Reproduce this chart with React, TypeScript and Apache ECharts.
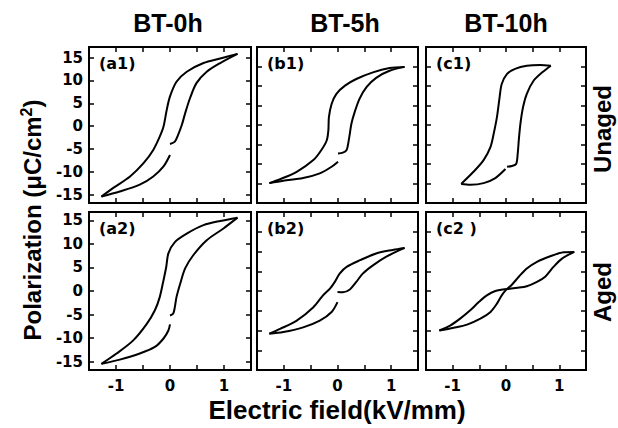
import React, { useEffect, useRef } from 'react';
import * as echarts from 'echarts';

// ---------- data ----------
const columnTitles = ['BT-0h', 'BT-5h', 'BT-10h'];
const rowTitles = ['Unaged', 'Aged'];
const panelLabels = ['(a1)', '(b1)', '(c1)', '(a2)', '(b2)', '(c2 )'];
const yTickValues = [-15, -10, -5, 0, 5, 10, 15];
const xTickValues = [-1.5, -1, -0.5, 0, 0.5, 1, 1.5];
const xLabelValues = [-1, 0, 1];
const xAxisTitle = 'Electric field(kV/mm)';

// each loop: rising branch, falling branch, returning branch  [E (kV/mm), P (uC/cm2)]
const a1Rise = [[0, -3.9], [0.09, -3.4], [0.15, -1.9], [0.22, 0.3], [0.28, 2.8], [0.37, 6.1], [0.49, 9.4], [0.68, 11.9], [0.93, 13.8], [1.25, 15.8]];
const a1Fall = [[1.25, 15.8], [0.93, 14.8], [0.62, 13.8], [0.31, 11.9], [0.12, 9.7], [0, 6.5], [-0.06, 3.6], [-0.12, -0.1], [-0.19, -2.3], [-0.31, -5.2], [-0.49, -8.1], [-0.74, -11], [-1.05, -13.5], [-1.27, -15.4]];
const a1Return = [[-1.27, -15.4], [-0.93, -14.3], [-0.56, -12.8], [-0.31, -11], [-0.12, -8.8], [0, -6.3]];

const b1Rise = [[0.01, -7.3], [0.1, -7.1], [0.17, -6.4], [0.2, -4.7], [0.23, -2.2], [0.26, 0.4], [0.32, 3.3], [0.41, 6.7], [0.54, 9.7], [0.72, 12.1], [0.97, 13.9], [1.25, 14.9]];
const b1Fall = [[1.25, 14.9], [0.97, 14.6], [0.66, 13.5], [0.35, 11.8], [0.14, 10.1], [-0.02, 8], [-0.11, 5.4], [-0.16, 2], [-0.17, -1.3], [-0.2, -3.9], [-0.3, -6.4], [-0.45, -9], [-0.76, -12], [-1.07, -13.9], [-1.27, -14.9]];
const b1Return = [[-1.27, -14.9], [-1.01, -14.3], [-0.64, -13.6], [-0.33, -12.4], [-0.11, -10.7], [0.01, -9.4]];

const c1Rise = [[0.02, -10.7], [0.11, -10.5], [0.19, -10], [0.22, -7.3], [0.24, -3.9], [0.27, 0.3], [0.32, 4.6], [0.39, 8], [0.52, 11.4], [0.68, 13.5], [0.84, 15.2]];
const c1Fall = [[0.84, 15.2], [0.64, 15.4], [0.39, 15.2], [0.17, 14.4], [0.02, 13.1], [-0.08, 10.5], [-0.12, 7.1], [-0.17, 2], [-0.23, -2.2], [-0.29, -5.6], [-0.42, -9], [-0.61, -12], [-0.84, -15.1]];
const c1Return = [[-0.84, -15.1], [-0.67, -15.3], [-0.42, -14.9], [-0.2, -13.6], [-0.01, -11.3]];

const a2Rise = [[0, -5.2], [0.06, -4.8], [0.09, -3.4], [0.12, -1.3], [0.19, 1.6], [0.28, 4.8], [0.43, 7.6], [0.68, 10.8], [0.99, 13.3], [1.25, 15.6]];
const a2Fall = [[1.25, 15.6], [0.93, 14.9], [0.62, 14], [0.31, 12.2], [0.09, 10.4], [-0.03, 8], [-0.07, 5.1], [-0.12, 2.3], [-0.19, -1.3], [-0.28, -4.1], [-0.43, -7], [-0.68, -10.5], [-0.99, -13.3], [-1.27, -15.5]];
const a2Return = [[-1.27, -15.5], [-0.93, -14.6], [-0.56, -13.3], [-0.28, -11.9], [-0.12, -10.1], [-0.03, -8.4], [0, -7.1]];

const b2Rise = [[0, -0.25], [0.1, -0.3], [0.23, 0.4], [0.35, 2.3], [0.47, 4.4], [0.66, 6.5], [0.91, 8.7], [1.25, 10.9]];
const b2Fall = [[1.25, 10.9], [1.03, 10.4], [0.72, 9.5], [0.42, 7.8], [0.17, 6.1], [0.04, 4.4], [-0.05, 2.3], [-0.14, 0.6], [-0.27, -1.1], [-0.45, -4.1], [-0.76, -7.5], [-1.07, -9.6], [-1.27, -10.8]];
const b2Return = [[-1.27, -10.8], [-1.01, -10.4], [-0.64, -9.2], [-0.33, -7.5], [-0.11, -5.3], [0, -2.8]];

const c2Rise = [[0.01, 0.5], [0.21, 0.8], [0.39, 1.2], [0.58, 2.3], [0.74, 3.7], [0.89, 6.1], [1.05, 8.2], [1.28, 9.9]];
const c2Fall = [[1.28, 9.9], [1.08, 9.8], [0.83, 8.8], [0.58, 7.4], [0.39, 5.7], [0.24, 3.6], [0.11, 1.6], [0.01, 0.4], [-0.08, -1.1], [-0.17, -3.2], [-0.29, -5.3], [-0.48, -7], [-0.73, -8.5], [-0.98, -9.3], [-1.25, -10]];
const c2Return = [[-1.25, -10], [-1.04, -8.7], [-0.86, -7], [-0.67, -4.9], [-0.51, -2.8], [-0.36, -1.1], [-0.2, 0], [0.01, 0.5]];

const panelBranches = [
  [a1Rise, a1Fall, a1Return],
  [b1Rise, b1Fall, b1Return],
  [c1Rise, c1Fall, c1Return],
  [a2Rise, a2Fall, a2Return],
  [b2Rise, b2Fall, b2Return],
  [c2Rise, c2Fall, c2Return],
];
// y ranges per panel
const panelYMin = [-16.8, -20, -20, -16.8, -20, -20];
const panelYMax = [17.3, 20, 20, 16.8, 20, 20];

// ---------- layout ----------
const colLeft = [89, 257, 426];
const colWidth = [162, 161, 160];
const rowTop = [47, 212];
const rowHeight = [156, 158];
const FONT = '"Liberation Sans", Arial, sans-serif';
const WIDE = '"DejaVu Sans", sans-serif';

export default function App() {
  const ref = useRef<HTMLDivElement>(null);

  useEffect(() => {
    if (!ref.current) return;
    const chart = echarts.init(ref.current, null, { renderer: 'svg' });

    const grid: any[] = [];
    const xAxis: any[] = [];
    const yAxis: any[] = [];
    const series: any[] = [];
    const graphic: any[] = [];

    const tickStyle = { color: '#000', width: 1.5 };

    for (let i = 0; i < 6; i++) {
      const r = Math.floor(i / 3);
      const c = i % 3;
      grid.push({
        left: colLeft[c],
        top: rowTop[r],
        width: colWidth[c],
        height: rowHeight[r],
        show: true,
        borderColor: '#000',
        borderWidth: 2,
        backgroundColor: 'transparent',
        containLabel: false,
      });
      ['bottom', 'top'].forEach((pos) => {
        xAxis.push({
          gridIndex: i,
          type: 'value',
          position: pos,
          min: -1.5,
          max: 1.5,
          interval: 0.5,
          axisLine: { show: false, onZero: false },
          splitLine: { show: false },
          axisTick: { show: true, inside: true, length: 5, customValues: xTickValues, lineStyle: tickStyle },
          axisLabel:
            pos === 'bottom' && r === 1
              ? {
                  show: true,
                  customValues: xLabelValues,
                  margin: 8,
                  color: '#000',
                  fontSize: 15,
                  fontWeight: 'bold',
                  fontFamily: WIDE,
                  formatter: (v: number) => String(v),
                }
              : { show: false },
        });
      });
      ['left', 'right'].forEach((pos) => {
        yAxis.push({
          gridIndex: i,
          type: 'value',
          position: pos,
          min: panelYMin[i],
          max: panelYMax[i],
          axisLine: { show: false, onZero: false },
          splitLine: { show: false },
          axisTick: { show: true, inside: true, length: 5, customValues: yTickValues, lineStyle: tickStyle },
          axisLabel:
            pos === 'left' && c === 0
              ? {
                  show: true,
                  customValues: yTickValues,
                  margin: 6,
                  color: '#000',
                  fontSize: 15,
                  fontWeight: 'bold',
                  fontFamily: WIDE,
                  formatter: (v: number) => String(v),
                }
              : { show: false },
        });
      });
      panelBranches[i].forEach((branch) => {
        series.push({
          type: 'line',
          xAxisIndex: 2 * i,
          yAxisIndex: 2 * i,
          data: branch,
          showSymbol: false,
          symbol: 'none',
          smooth: 0.3,
          lineStyle: { color: '#000', width: 2 },
          silent: true,
        });
      });
      graphic.push({
        type: 'text',
        x: colLeft[c] + 10,
        y: rowTop[r] + 16,
        style: {
          text: panelLabels[i],
          fill: '#000',
          fontSize: 16,
          fontWeight: 'bold',
          fontFamily: WIDE,
          align: 'left',
          verticalAlign: 'middle',
        },
      });
    }

    const titleX = [168, 345, 506];
    columnTitles.forEach((t, c) => {
      graphic.push({
        type: 'text',
        x: titleX[c],
        y: 23,
        style: { text: t, fill: '#000', fontSize: 25, fontWeight: 'bold', fontFamily: FONT, align: 'center', verticalAlign: 'middle' },
      });
    });
    const rowY = [129, 292];
    rowTitles.forEach((t, r) => {
      graphic.push({
        type: 'text',
        x: 602,
        y: rowY[r],
        rotation: Math.PI / 2,
        style: { text: t, fill: '#000', fontSize: 24, fontWeight: 'bold', fontFamily: FONT, align: 'center', verticalAlign: 'middle' },
      });
    });
    graphic.push({
      type: 'text',
      x: 32,
      y: 220,
      rotation: Math.PI / 2,
      style: {
        text: '{a|Polarization (μC/cm}{s|2}{a|)}',
        fill: '#000',
        align: 'center',
        verticalAlign: 'middle',
        rich: {
          a: { fontSize: 24, fontWeight: 'bold', fontFamily: FONT, fill: '#000', lineHeight: 28 },
          s: { fontSize: 16, fontWeight: 'bold', fontFamily: FONT, fill: '#000', verticalAlign: 'top', lineHeight: 16 },
        },
      },
    });
    graphic.push({
      type: 'text',
      x: 337,
      y: 410,
      style: { text: xAxisTitle, fill: '#000', fontSize: 26, fontWeight: 'bold', fontFamily: FONT, align: 'center', verticalAlign: 'middle' },
    });

    chart.setOption({
      animation: false,
      backgroundColor: '#fff',
      grid,
      xAxis,
      yAxis,
      series,
      graphic,
    });

    return () => chart.dispose();
  }, []);

  return <div ref={ref} style={{ position: 'absolute', left: 0, top: 0, width: 618, height: 428 }} />;
}
